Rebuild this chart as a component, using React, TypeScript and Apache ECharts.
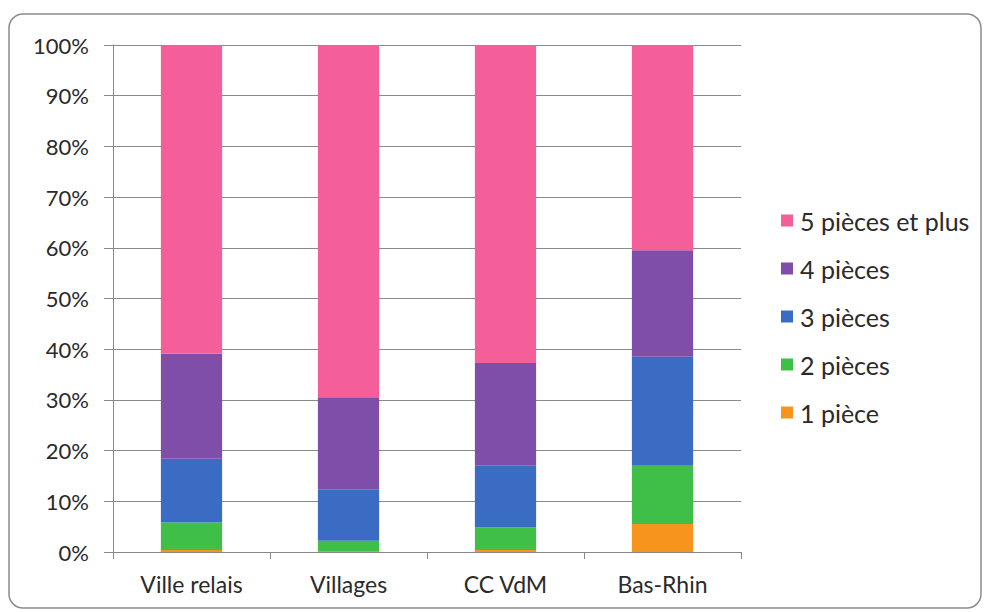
import React, { useEffect, useRef } from "react";
import * as echarts from "echarts";

const categories = ["Ville relais", "Villages", "CC VdM", "Bas-Rhin"];
const seriesNames = ["1 pièce", "2 pièces", "3 pièces", "4 pièces", "5 pièces et plus"];
const onePiece = [0.4, 0.2, 0.4, 5.5];
const twoPieces = [5.4, 2.0, 4.5, 11.5];
const threePieces = [12.6, 10.2, 12.1, 21.5];
const fourPieces = [20.7, 18.1, 20.3, 21.0];
const fivePlus = [60.9, 69.5, 62.7, 40.5];
const colors = ["#F7941D", "#3FBF48", "#3A6CC4", "#7E4EA8", "#F45E99"];

export default function App() {
  const ref = useRef<HTMLDivElement>(null);
  useEffect(() => {
    const chart = echarts.init(ref.current!, undefined, { renderer: "svg" });
    const data = [onePiece, twoPieces, threePieces, fourPieces, fivePlus];
    const font = "Lato, 'Open Sans', sans-serif";
    chart.setOption({
      animation: false,
      backgroundColor: "#ffffff",
      graphic: [
        {
          type: "rect",
          shape: { x: 9, y: 14, width: 972, height: 594, r: 14 },
          style: { fill: "none", stroke: "#8c8c8c", lineWidth: 1.5 },
          silent: true,
        },
      ],
      grid: { left: 113, right: 243, top: 45, bottom: 60 },
      legend: {
        orient: "vertical",
        left: 776,
        top: 203,
        itemWidth: 12,
        itemHeight: 12,
        itemGap: 23,
        icon: "rect",
        data: [...seriesNames].reverse(),
        textStyle: { fontFamily: font, fontSize: 25, lineHeight: 25, color: "#2a2a2a", padding: [0, 0, 0, 2] },
      },
      xAxis: {
        type: "category",
        data: categories,
        axisLine: { show: true, lineStyle: { color: "#888", width: 1 } },
        axisTick: { show: true, alignWithLabel: false, length: 7, lineStyle: { color: "#888" } },
        axisLabel: { fontFamily: font, fontSize: 23, color: "#2a2a2a", margin: 20 },
      },
      yAxis: {
        type: "value",
        min: 0,
        max: 100,
        interval: 10,
        axisLine: { show: true, lineStyle: { color: "#888", width: 1 } },
        axisTick: { show: true, inside: false, length: 9, lineStyle: { color: "#888" } },
        splitLine: { show: true, lineStyle: { color: "#8a8a8a", width: 1 } },
        axisLabel: { fontFamily: font, fontSize: 22, color: "#2a2a2a", margin: 24, formatter: "{value}%" },
      },
      series: seriesNames.map((name, i) => ({
        name,
        type: "bar",
        stack: "total",
        barWidth: "39%",
        data: data[i],
        itemStyle: { color: colors[i] },
      })),
    });
    return () => chart.dispose();
  }, []);
  return (
    <div
      ref={ref}
      style={{ position: "fixed", left: 0, top: 0, width: 984, height: 612 }}
    />
  );
}
